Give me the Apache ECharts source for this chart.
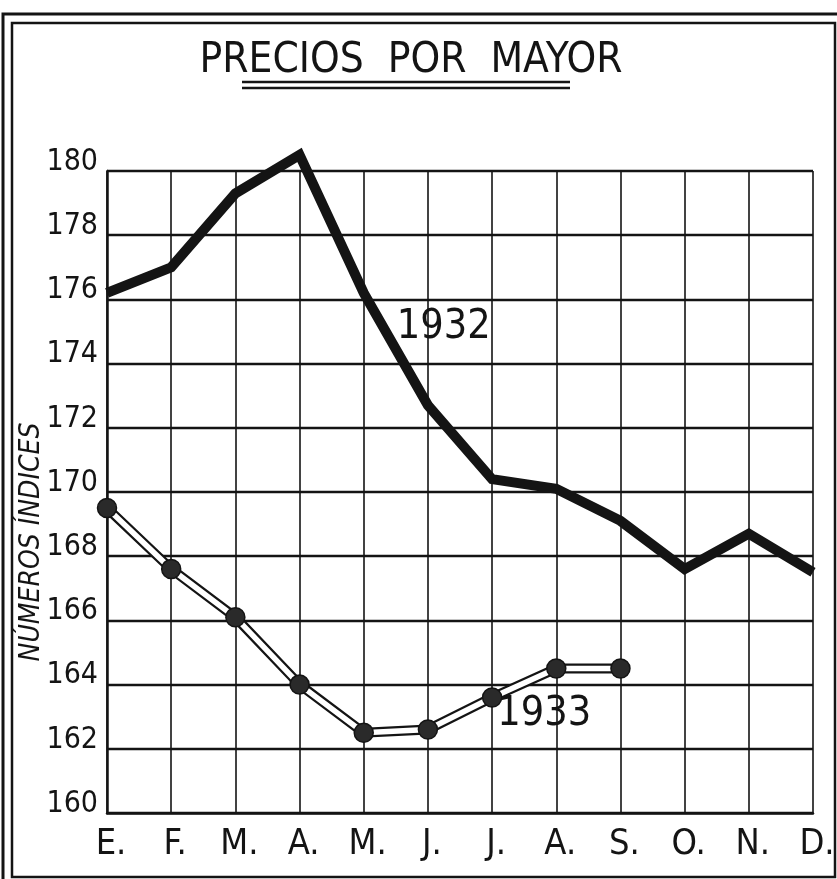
<!DOCTYPE html>
<html>
<head>
<meta charset="utf-8">
<script src="https://cdn.jsdelivr.net/npm/echarts@6/dist/echarts.min.js"></script>
<style>
html,body{margin:0;padding:0;background:#fff;}
#c{width:837px;height:879px;}
</style>
</head>
<body>
<div id="c"></div>
<script>
// ---- data ----
var months = ['Ene','Feb','Mar','Abr','May','Jun','Jul','Ago','Sep','Oct','Nov','Dic'];
var monthLabels = ['E.','F.','M.','A.','M.','J.','J.','A.','S.','O.','N.','D.'];
var values1932 = [176.2, 177.0, 179.3, 180.5, 176.2, 172.7, 170.4, 170.1, 169.1, 167.6, 168.7, 167.5];
var values1933 = [169.5, 167.6, 166.1, 164.0, 162.5, 162.6, 163.6, 164.5, 164.5];
var yTicks = [160, 162, 164, 166, 168, 170, 172, 174, 176, 178, 180];

var INK = '#141414';
var FONT = '"Liberation Sans Narrow","DejaVu Sans Condensed","Liberation Sans",sans-serif';

var chart = echarts.init(document.getElementById('c'), null, {renderer:'canvas'});

function labelled(values, idx, text, offset) {
  return values.map(function (v, i) {
    if (i !== idx) return v;
    return {
      value: v,
      label: {
        show: true, formatter: text, position: 'inside', offset: offset,
        fontFamily: FONT, fontSize: 41, color: INK
      }
    };
  });
}

var option = {
  backgroundColor: '#fff',
  animation: false,
  title: {
    text: 'PRECIOS  POR  MAYOR',
    left: 406, top: 35, textAlign: 'center',
    textStyle: {fontFamily: FONT, fontSize: 42, fontWeight: 'normal', color: INK}
  },
  grid: {left: 107, right: 24, top: 171, bottom: 66, containLabel: false, outerBoundsMode: 'none'},
  xAxis: {
    type: 'category',
    data: months,
    boundaryGap: false,
    axisLine: {show: true, lineStyle: {color: INK, width: 2.5}},
    axisTick: {show: false},
    splitLine: {show: true, interval: 0, lineStyle: {color: INK, width: 1.6}},
    axisLabel: {
      interval: 0, margin: 14,
      formatter: function (v, i) { return monthLabels[i]; },
      fontFamily: FONT, fontSize: 36, color: INK, padding: [0, 0, 0, 8]
    }
  },
  yAxis: {
    type: 'value',
    min: 160, max: 180, interval: 2,
    name: 'NÚMEROS ÍNDICES',
    nameLocation: 'middle', nameRotate: 90, nameGap: 61, nameMoveOverlap: false,
    nameTextStyle: {fontFamily: FONT, fontSize: 28, fontStyle: 'italic', color: INK, padding: [0, 100, 0, 0]},
    axisLine: {show: true, lineStyle: {color: INK, width: 2.5}},
    axisTick: {show: false},
    splitLine: {show: true, lineStyle: {color: INK, width: 2.4}},
    axisLabel: {
      margin: 9,
      formatter: function (v) { return yTicks.indexOf(v) >= 0 ? String(v) : ''; },
      fontFamily: FONT, fontSize: 30, color: INK,
      verticalAlign: 'bottom', lineHeight: 18
    }
  },
  series: [
    {
      name: '1932', type: 'line', clip: false, z: 5,
      data: labelled(values1932, 4, '1932', [80, 34]),
      symbol: 'circle', symbolSize: 0, showSymbol: true,
      itemStyle: {color: INK},
      lineStyle: {color: INK, width: 10, join: 'miter', cap: 'butt'}
    },
    {
      name: '1933 borde', type: 'line', clip: false, z: 5,
      data: values1933, symbol: 'none',
      lineStyle: {color: INK, width: 10, join: 'miter'}
    },
    {
      name: '1933 interior', type: 'line', clip: false, z: 6,
      data: values1933, symbol: 'none',
      lineStyle: {color: '#fff', width: 5.5, join: 'miter'}
    },
    {
      name: '1933', type: 'line', clip: false, z: 7,
      data: labelled(values1933, 7, '1933', [-12, 46]),
      symbol: 'circle', symbolSize: 19, showSymbol: true,
      itemStyle: {color: '#2a2a2a', borderColor: INK, borderWidth: 1.5},
      lineStyle: {width: 0, opacity: 0}
    }
  ],
  graphic: [
    {type: 'rect', shape: {x: 3, y: 14, width: 850, height: 880}, style: {fill: null, stroke: INK, lineWidth: 3}, silent: true},
    {type: 'rect', shape: {x: 12, y: 23, width: 823, height: 854}, style: {fill: null, stroke: INK, lineWidth: 2.5}, silent: true},
    {type: 'line', shape: {x1: 242, y1: 82, x2: 570, y2: 82}, style: {stroke: INK, lineWidth: 2.5}, silent: true},
    {type: 'line', shape: {x1: 242, y1: 88, x2: 570, y2: 88}, style: {stroke: INK, lineWidth: 2.5}, silent: true}
  ]
};
chart.setOption(option);
</script>
</body>
</html>
